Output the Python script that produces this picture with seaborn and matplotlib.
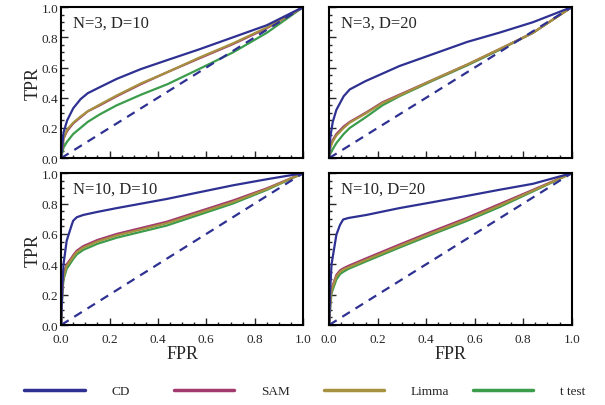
import numpy as np
import pandas as pd
import seaborn as sns
import matplotlib.pyplot as plt
from matplotlib.ticker import MultipleLocator, FormatStrFormatter
from matplotlib.lines import Line2D

methods = ['CD', 'SAM', 'Limma', 't test']
colors = {'CD': '#2e3192', 'SAM': '#a33a6e', 'Limma': '#a5913f', 't test': '#3b9c4c'}
panel_titles = ['N=3, D=10', 'N=3, D=20', 'N=10, D=10', 'N=10, D=20']

# ROC points (FPR, TPR)
fpr_n3d10 = [0.0, 0.01, 0.025, 0.05, 0.08, 0.11, 0.16, 0.23, 0.33, 0.44, 0.57, 0.71, 0.85, 1.0]
cd_n3d10 = [0.0, 0.17, 0.25, 0.33, 0.39, 0.43, 0.47, 0.525, 0.59, 0.65, 0.72, 0.80, 0.88, 1.0]
sam_n3d10 = [0.0, 0.13, 0.18, 0.23, 0.27, 0.31, 0.35, 0.41, 0.49, 0.57, 0.66, 0.755, 0.86, 1.0]
limma_n3d10 = [0.0, 0.13, 0.19, 0.235, 0.275, 0.31, 0.355, 0.415, 0.495, 0.57, 0.665, 0.76, 0.865, 1.0]
ttest_n3d10 = [0.0, 0.07, 0.11, 0.16, 0.20, 0.24, 0.29, 0.35, 0.42, 0.49, 0.59, 0.70, 0.83, 1.0]

fpr_n3d20 = [0.0, 0.005, 0.015, 0.03, 0.06, 0.085, 0.15, 0.22, 0.29, 0.43, 0.57, 0.70, 0.84, 1.0]
cd_n3d20 = [0.0, 0.14, 0.24, 0.32, 0.41, 0.455, 0.51, 0.56, 0.61, 0.69, 0.77, 0.83, 0.90, 1.0]
sam_n3d20 = [0.0, 0.08, 0.12, 0.16, 0.21, 0.24, 0.30, 0.37, 0.42, 0.52, 0.62, 0.72, 0.83, 1.0]
limma_n3d20 = [0.0, 0.07, 0.11, 0.15, 0.20, 0.235, 0.295, 0.365, 0.415, 0.52, 0.62, 0.72, 0.83, 1.0]
ttest_n3d20 = [0.0, 0.03, 0.06, 0.10, 0.16, 0.20, 0.27, 0.35, 0.41, 0.515, 0.615, 0.715, 0.83, 1.0]

fpr_n10d10 = [0.0, 0.005, 0.01, 0.023, 0.044, 0.05, 0.065, 0.092, 0.15, 0.23, 0.436, 0.71, 0.85, 1.0]
cd_n10d10 = [0.0, 0.25, 0.40, 0.555, 0.66, 0.687, 0.71, 0.725, 0.745, 0.77, 0.83, 0.92, 0.96, 1.0]
sam_n10d10 = [0.0, 0.24, 0.33, 0.40, 0.445, 0.46, 0.49, 0.52, 0.56, 0.60, 0.68, 0.82, 0.90, 1.0]
limma_n10d10 = [0.0, 0.23, 0.32, 0.39, 0.435, 0.45, 0.48, 0.51, 0.55, 0.59, 0.67, 0.81, 0.895, 1.0]
ttest_n10d10 = [0.0, 0.21, 0.30, 0.37, 0.42, 0.435, 0.465, 0.495, 0.535, 0.575, 0.655, 0.80, 0.89, 1.0]

fpr_n10d20 = [0.0, 0.005, 0.01, 0.03, 0.045, 0.058, 0.08, 0.154, 0.29, 0.43, 0.567, 0.70, 0.84, 1.0]
cd_n10d20 = [0.0, 0.25, 0.40, 0.595, 0.66, 0.695, 0.705, 0.725, 0.77, 0.81, 0.85, 0.89, 0.93, 1.0]
sam_n10d20 = [0.0, 0.16, 0.24, 0.33, 0.36, 0.373, 0.39, 0.44, 0.53, 0.62, 0.705, 0.795, 0.89, 1.0]
limma_n10d20 = [0.0, 0.15, 0.23, 0.32, 0.35, 0.365, 0.38, 0.43, 0.52, 0.61, 0.695, 0.785, 0.885, 1.0]
ttest_n10d20 = [0.0, 0.13, 0.21, 0.30, 0.335, 0.35, 0.37, 0.42, 0.51, 0.60, 0.685, 0.775, 0.88, 1.0]

diag = [0.0, 1.0]

panels = [
    (fpr_n3d10, [cd_n3d10, sam_n3d10, limma_n3d10, ttest_n3d10]),
    (fpr_n3d20, [cd_n3d20, sam_n3d20, limma_n3d20, ttest_n3d20]),
    (fpr_n10d10, [cd_n10d10, sam_n10d10, limma_n10d10, ttest_n10d10]),
    (fpr_n10d20, [cd_n10d20, sam_n10d20, limma_n10d20, ttest_n10d20]),
]

sns.set_style('ticks')
plt.rcParams['font.family'] = ['Liberation Serif', 'DejaVu Serif']

fig = plt.figure(figsize=(6.05, 4.06), dpi=100)
positions = [
    [0.101, 0.608, 0.400, 0.372],
    [0.544, 0.608, 0.401, 0.372],
    [0.101, 0.197, 0.400, 0.374],
    [0.544, 0.197, 0.401, 0.374],
]

for i, (fpr, curves) in enumerate(panels):
    ax = fig.add_axes(positions[i])
    rows = []
    for m, tpr in zip(methods, curves):
        for x, y in zip(fpr, tpr):
            rows.append({'FPR': x, 'TPR': y, 'method': m})
    df = pd.DataFrame(rows)
    # draw t test first so SAM / Limma sit on top like the original
    for m in ['t test', 'SAM', 'Limma', 'CD']:
        sns.lineplot(data=df[df['method'] == m], x='FPR', y='TPR', color=colors[m],
                     linewidth=1.6, estimator=None, sort=False, ax=ax, legend=False)
    sns.lineplot(x=diag, y=diag, color=colors['CD'], linewidth=1.6,
                 linestyle=(0, (4, 3)), ax=ax, legend=False)

    ax.set_xlim(0, 1)
    ax.set_ylim(0, 1)
    ax.xaxis.set_major_locator(MultipleLocator(0.2))
    ax.yaxis.set_major_locator(MultipleLocator(0.2))
    ax.xaxis.set_minor_locator(MultipleLocator(0.05))
    ax.yaxis.set_minor_locator(MultipleLocator(0.05))
    ax.xaxis.set_major_formatter(FormatStrFormatter('%.1f'))
    ax.yaxis.set_major_formatter(FormatStrFormatter('%.1f'))
    ax.tick_params(which='both', direction='in', top=False, right=False, labelsize=9.5,
                   width=1.0)
    ax.tick_params(axis='y', pad=2)
    ax.tick_params(axis='x', pad=6)
    ax.tick_params(which='major', length=5)
    ax.tick_params(which='minor', length=2.5)
    for s in ax.spines.values():
        s.set_linewidth(1.5)
        s.set_color('black')
    ax.text(0.05, 0.95, panel_titles[i], transform=ax.transAxes, fontsize=12,
            va='top', ha='left')

    if i in (0, 2):
        ax.set_ylabel('TPR', fontsize=13, labelpad=0)
    else:
        ax.set_ylabel('')
        ax.tick_params(labelleft=False)
    if i in (2, 3):
        ax.set_xlabel('FPR', fontsize=13, labelpad=0)
    else:
        ax.set_xlabel('')
        ax.tick_params(labelbottom=False)

# legend: four evenly spaced entries along the bottom
legend_x = [0.04, 0.287, 0.535, 0.781]
for m, lx in zip(methods, legend_x):
    h = Line2D([], [], color=colors[m], linewidth=2.5)
    fig.legend(handles=[h], labels=[m], loc='center left', bbox_to_anchor=(lx, 0.034),
               frameon=False, fontsize=9.5, handlelength=4.6, handletextpad=2.0,
               borderaxespad=0, borderpad=0)

fig.savefig('out.png', dpi=100)
